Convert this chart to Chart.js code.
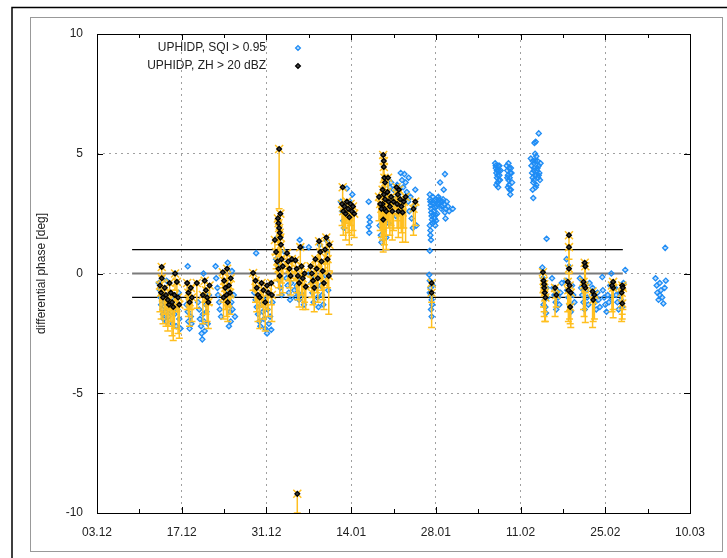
<!DOCTYPE html>
<html>
<head>
<meta charset="utf-8">
<script src="https://cdn.jsdelivr.net/npm/chart.js@4"></script>
<style>
  html, body { margin: 0; padding: 0; background: #fff; }
  #wrap { position: relative; width: 727px; height: 558px; }
</style>
</head>
<body>
<div id="wrap"><canvas id="phaseChart" width="727" height="558"></canvas></div>
<script>
// days counted from 03.12
const dateLabels = ['03.12', '17.12', '31.12', '14.01', '28.01', '11.02', '25.02', '10.03'];
const yTicks = [-10, -5, 0, 5, 10];

// reference lines
const refDays = [5.8, 86.9];
const refLevels = [1, 0, -1];

const legendLabels = ['UPHIDP, SQI > 0.95', 'UPHIDP, ZH > 20 dBZ'];

// UPHIDP, SQI > 0.95  [day, value]
const sqiPoints = [
  [10.2,-0.4],[10.4,-0.7],[10.5,-1.0],[10.6,-1.3],[10.8,-1.5],[10.9,-1.7],[11.0,-1.9],[11.2,-1.2],[11.3,-1.6],[11.5,-2.0],
  [11.6,-1.4],[11.8,-1.8],[12.0,-0.9],[12.1,-1.1],[12.3,-1.6],[12.5,-2.1],[12.6,-1.3],[12.8,-1.7],[13.0,-1.0],[13.1,-2.2],
  [13.3,-1.5],[13.5,-0.8],[12.9,0.0],[11.5,-0.3],[13.6,-1.9],[13.8,-2.3],
  [14.8,-1.3],[15.0,-1.6],[15.1,-2.0],[15.3,-2.3],[15.2,-1.1],[15.5,-1.8],[15.6,-2.1],[15.0,0.3],[16.7,-1.2],[16.9,-1.5],
  [17.0,-1.9],[17.2,-2.2],[17.3,-2.5],[17.4,-2.75],[17.5,-1.7],[17.7,-2.0],[17.8,-2.4],[18.0,-1.3],[18.1,-1.6],[18.3,-2.1],
  [17.6,0.0],[18.5,-0.9],
  [19.6,0.3],[19.7,-0.2],[19.9,-0.6],[20.0,-0.9],[20.2,-1.2],[20.3,-1.5],[20.5,-1.8],[21.6,0.45],[22.3,0.1],[21.5,-0.7],
  [21.7,-1.0],[21.9,-1.3],[22.0,-1.6],[22.2,-1.2],[22.4,-1.5],[22.6,-0.9],[22.8,-1.8],[22.1,-2.0],[21.8,-2.2],
  [26.3,0.85],[26.0,-0.8],[26.2,-1.1],[26.4,-1.4],[26.6,-1.7],[26.8,-2.0],[27.0,-2.2],[27.2,-1.3],[27.4,-1.6],[27.6,-1.9],
  [27.8,-2.3],[28.0,-1.0],[28.2,-1.5],[28.4,-2.1],[28.6,-1.8],[28.8,-2.35],[29.0,-1.2],[28.1,-2.5],
  [29.8,1.5],[29.6,0.6],[29.9,0.3],[30.1,-0.3],[30.3,-0.6],[30.5,-0.9],[31.3,-0.2],[31.5,-0.5],[31.7,-0.8],[31.9,-1.1],
  [32.1,-0.4],[31.0,0.9],
  [33.5,1.4],[33.8,1.1],[33.0,-0.5],[33.2,-0.8],[33.4,-1.1],[33.6,-0.3],[34.0,-0.9],[34.2,-1.3],[34.4,-0.6],[32.6,-0.7],
  [32.8,-1.0],
  [35.0,1.1],[35.2,0.0],[35.4,-0.4],[35.6,-0.8],[35.8,-1.2],[36.0,-0.2],[36.2,-0.6],[36.4,-1.0],[36.6,-1.4],[37.0,-0.5],
  [37.2,-0.9],[37.4,-1.3],[37.6,0.5],[37.8,-0.1],[38.0,0.9],[38.2,-0.7],[36.8,1.2],[37.9,1.4],
  [40.3,3.0],[40.5,2.6],[40.7,2.2],[41.0,2.8],[41.3,3.55],[41.5,2.4],[41.8,3.0],[42.0,2.7],[42.2,3.3],[42.4,2.5],[40.8,1.9],
  [44.9,3.0],[45.0,2.35],[45.1,2.15],[44.9,1.95],[45.0,1.7],
  [46.7,2.0],[46.9,1.6],[47.0,1.3],[47.2,2.4],[47.4,1.8],[47.6,2.7],[47.8,1.5],[48.0,3.2],[48.2,2.1],[48.4,3.6],
  [48.6,3.8],[48.8,2.8],[49.0,3.5],[49.2,3.1],[49.4,2.4],[49.6,3.7],[49.8,3.3],[50.0,2.6],
  [50.2,4.2],[50.4,3.9],[50.6,3.6],[50.8,4.15],[51.0,3.8],[51.2,3.4],[51.4,3.0],[51.6,2.6],[51.8,3.2],[52.0,2.3],
  [52.2,1.9],[52.4,2.8],[52.6,3.5],[51.5,4.0],[52.8,2.0],
  [55.0,3.3],[55.1,3.0],[55.2,2.7],[55.3,2.4],[55.4,2.1],[55.5,3.2],[55.6,2.9],[55.7,2.6],[55.8,2.3],[55.9,2.0],
  [56.0,3.1],[56.1,2.8],[56.2,2.5],[56.4,3.2],[56.6,2.95],[56.8,3.0],[57.0,2.8],[57.2,3.1],[57.4,2.9],[57.6,2.7],
  [57.8,3.0],[58.0,2.8],[58.2,2.6],[56.7,3.8],[57.5,4.15],[57.3,3.5],[57.5,2.55],[57.6,2.3],[55.2,1.4],[55.0,0.95],
  [55.1,1.8],[58.8,2.7],
  [55.05,3.1],[55.15,2.85],[55.25,2.55],[55.35,2.25],[55.45,2.95],[55.55,2.45],[55.65,2.15],[55.75,3.05],[55.85,2.75],
  [55.95,2.45],[56.05,2.2],[56.3,2.9],[56.5,3.1],[56.9,2.7],[57.1,3.0],[55.1,1.6],[55.0,2.0],
  [54.9,-0.05],[55.0,-0.3],[55.1,-0.6],[55.2,-0.9],[55.3,-1.1],[55.4,-1.3],[55.2,-1.5],[55.3,-1.8],[55.0,-0.8],[55.5,-0.5],
  [65.8,4.6],[65.9,4.4],[66.0,4.2],[66.1,4.0],[66.2,3.8],[66.3,3.6],[66.4,4.3],[66.5,4.1],[66.6,3.9],[66.0,3.7],
  [66.3,4.5],[66.7,4.3],[65.9,4.5],[66.1,4.3],[66.2,4.1],[66.4,3.9],[66.5,4.5],
  [67.7,4.5],[67.8,4.3],[67.9,4.1],[68.0,3.9],[68.1,3.7],[68.2,3.5],[68.3,3.3],[68.4,4.4],[68.5,4.2],[68.0,4.6],
  [68.2,4.0],[68.6,3.8],[67.8,4.0],[67.9,3.6],[68.1,4.4],[68.3,4.2],[68.4,3.5],
  [71.7,4.8],[71.8,4.5],[71.9,4.2],[72.0,4.0],[72.1,3.8],[72.2,4.6],[72.3,4.4],[72.4,4.1],[72.5,3.6],[72.6,4.9],
  [72.7,4.3],[72.8,4.7],[72.9,4.0],[73.0,4.5],[73.1,4.2],[73.2,3.9],[73.3,4.6],[72.0,3.5],[72.4,5.0],[72.1,3.15],
  [73.0,5.85],[72.5,5.5],[72.3,5.45],[72.0,4.7],[72.2,4.3],[72.4,4.7],[72.6,4.1],[72.8,4.4],[73.0,4.1],[72.2,3.9],
  [72.6,3.7],
  [74.3,1.45],
  [73.6,0.25],[73.7,-0.2],[73.8,-0.5],[73.9,-0.8],[74.0,-1.1],[74.1,-1.4],[74.2,-1.65],[74.3,-0.6],[74.4,-1.0],[73.8,-1.3],
  [75.2,-0.2],[75.4,-0.6],[75.6,-0.9],[75.8,-1.2],[76.0,-0.7],[76.2,-1.0],[76.4,-1.3],[76.6,-0.8],[76.8,-0.4],[75.9,-1.5],
  [77.5,-0.3],[77.7,-0.7],[77.9,-1.0],[78.1,-1.3],[78.3,-1.6],[78.5,-0.5],[78.7,-0.9],[78.9,-1.2],[77.6,0.6],[78.0,0.3],
  [79.8,-0.2],[80.0,-0.6],[80.2,-0.9],[80.4,-1.2],[80.6,-1.5],[80.8,-0.7],[81.0,-1.0],[81.2,-1.3],[81.4,-0.4],
  [81.9,-0.6],[82.1,-0.9],[82.3,-1.2],[82.5,-1.5],[82.7,-0.8],[82.9,-1.1],[83.1,-1.4],
  [83.5,-0.15],[83.6,-0.7],[83.8,-1.0],[84.0,-1.3],[84.2,-1.6],[84.4,-0.9],[84.6,-1.2],[84.8,-0.5],[85.0,-1.0],[85.0,0.0],
  [85.6,-0.6],[85.8,-0.9],[86.0,-1.2],[86.2,-1.5],[86.4,-0.8],[86.6,-1.1],[86.8,-1.4],[87.0,-0.4],[87.3,0.15],
  [92.3,-0.2],[92.5,-0.5],[92.6,-0.8],[92.8,-1.1],[93.0,-0.4],[93.2,-0.7],[93.4,-1.0],[93.6,-1.25],[93.8,-0.6],[94.0,-0.3],
  [93.0,-0.9],[93.9,1.07]
];

// UPHIDP, ZH > 20 dBZ  [day, value, lower end of error bar]
const zhPoints = [
  [10.7,0.27,-0.1],[10.7,-0.2,-0.9],[10.4,-0.5,-1.6],[10.6,-0.8,-1.9],[10.9,-1.0,-2.1],[11.2,-0.6,-1.7],[11.4,-0.9,-2.2],
  [11.7,-1.1,-2.4],[12.0,-0.4,-1.5],[12.2,-0.8,-2.0],[12.4,-1.2,-2.6],[12.6,-1.4,-2.8],[12.8,-0.9,-2.3],[12.9,0.0,-0.7],
  [13.2,-0.35,-1.6],[13.4,-1.0,-2.5],[13.6,-1.3,-2.7],[11.9,-1.3,-2.2],
  [14.9,-0.4,-1.5],[15.1,-0.8,-1.8],[15.3,-1.2,-2.2],[15.5,-0.6,-1.5],[15.7,-1.0,-2.0],[16.5,-0.4,-1.45],[17.8,-0.3,-1.2],
  [18.0,-0.7,-1.7],[18.2,-1.0,-2.0],[18.4,-1.2,-2.3],[18.6,-0.5,-1.3],[17.5,-0.9,-2.1],
  [20.8,0.05,-0.6],[21.0,-0.3,-1.2],[21.2,-0.6,-1.5],[21.4,-0.9,-1.8],[21.6,-1.2,-2.0],[21.8,-0.5,-1.4],[22.0,-0.8,-1.7],
  [20.9,-1.0,-1.9],[21.5,0.2,-0.5],[22.1,-0.2,-1.0],
  [25.8,0.02,-0.7],[26.2,-0.3,-1.2],[26.4,-0.6,-1.6],[26.6,-0.9,-2.0],[26.9,-1.0,-2.3],[27.2,-0.4,-1.4],[27.5,-0.7,-1.9],
  [27.8,-1.2,-2.4],[28.1,-0.5,-1.5],[28.3,-0.8,-1.8],[28.8,-0.4,-1.3],[28.9,-0.9,-2.0],
  [29.4,1.4,0.8],[29.6,0.9,0.2],[29.8,0.5,-0.3],[30.0,0.2,-0.6],[30.2,-0.1,-0.9],[29.9,2.3,1.4],[30.0,2.1,1.2],
  [30.1,1.9,0.9],[30.2,1.7,0.7],[30.3,1.5,0.6],[30.4,1.2,0.3],[30.3,2.5,1.6],[30.1,5.2,2.7],[30.5,0.6,-0.4],[30.7,0.3,-0.8],
  [31.4,0.85,0.2],[31.6,0.5,-0.3],[31.8,0.2,-0.6],[32.0,-0.1,-0.9],[32.2,0.6,-0.2],[32.8,0.55,-0.3],[33.0,0.2,-0.8],
  [33.2,-0.1,-1.1],[33.4,-0.4,-1.4],[33.6,1.1,0.2],[33.8,0.3,-0.9],[34.0,-0.2,-1.5],[34.3,0.0,-1.2],[34.5,-0.55,-1.5],
  [33.1,-9.2,-10.0],
  [35.3,0.3,-0.6],[35.5,0.0,-1.0],[35.7,-0.3,-1.3],[35.9,-0.6,-1.6],[36.1,0.6,-0.4],[36.3,0.2,-0.8],[36.5,-0.2,-1.2],
  [36.7,1.35,0.3],[36.9,0.9,-0.2],[37.1,0.5,-0.7],[37.3,0.1,-1.1],[37.5,-0.4,-1.5],[37.7,1.0,0.0],[37.9,1.5,0.4],
  [38.1,0.6,-0.6],[38.3,-0.1,-1.7],[38.4,1.2,0.1],
  [40.6,3.6,2.6],[40.5,2.9,2.0],[40.7,2.6,1.6],[40.9,2.8,1.9],[41.1,2.5,1.4],[41.3,3.0,2.1],[41.5,2.7,1.7],[41.7,2.35,1.2],
  [41.9,2.9,2.0],[42.1,2.6,1.6],[42.3,2.8,1.8],[42.5,2.5,1.5],
  [47.3,4.95,3.8],[47.4,4.7,3.5],[47.4,4.45,3.2],[47.5,4.0,2.8],[47.6,3.8,2.5],[47.2,3.5,2.3],[47.4,3.3,1.9],[47.6,3.1,1.6],
  [47.2,2.9,1.4],[47.5,2.7,1.2],[47.3,2.25,0.9],[47.8,2.6,1.0],[46.6,3.2,2.2],[46.8,2.9,1.8],[47.0,2.7,1.5],[48.0,3.4,2.2],
  [48.2,3.0,1.9],[48.4,2.8,1.6],[48.6,3.2,2.0],[48.8,2.6,1.4],[49.0,3.0,1.8],[49.5,3.6,2.5],[49.7,3.3,2.2],[49.9,3.5,2.4],
  [49.6,2.9,1.9],[49.8,2.6,1.5],[50.1,3.1,1.9],[50.3,2.8,1.7],[50.5,2.55,1.3],[50.7,3.0,1.9],[51.0,3.2,1.3],[52.6,3.0,2.0],
  [52.3,2.7,1.6],[48.1,4.0,3.0],
  [55.3,-0.4,-1.2],[55.3,-0.8,-2.25],
  [73.7,0.05,-0.8],[73.8,-0.3,-1.4],[73.9,-0.6,-1.8],[74.0,-0.8,-2.0],[74.1,-1.0,-2.0],[73.9,-0.45,-1.6],
  [75.7,-0.6,-1.8],[75.9,-0.9,-1.4],
  [78.0,1.6,0.6],[78.0,1.1,0.0],[78.0,0.2,-0.8],[77.8,-0.35,-1.6],[78.1,-0.5,-1.9],[78.3,-0.8,-2.25],[78.2,-1.4,-2.1],
  [77.9,-0.7,-2.0],
  [80.6,0.45,-0.6],[80.7,0.3,-0.8],[80.4,-0.35,-1.5],[80.7,-0.6,-2.05],[80.5,-0.5,-1.8],
  [81.9,-0.75,-2.25],[82.0,-1.1,-2.0],[82.2,-0.9,-1.9],
  [85.3,-0.35,-1.5],[85.3,-0.6,-1.85],[85.1,-0.5,-1.6],
  [86.8,-0.5,-1.7],[86.7,-0.8,-2.0],[86.8,-1.25,-1.9],[86.9,-0.6,-1.5]
];

const BLUE = '#1e8cf5';
const GOLD = '#ffbf1f';
const FONT = '"Liberation Sans", Arial, sans-serif';

// frame around the whole picture (gnuplot style page border)
const pageFrame = {
  id: 'pageFrame',
  beforeDraw(chart) {
    const c = chart.ctx;
    c.save();
    c.fillStyle = '#fff';
    c.fillRect(0, 0, chart.width, chart.height);
    c.strokeStyle = '#000';
    c.lineWidth = 1.5;
    c.beginPath();
    c.moveTo(12, chart.height); c.lineTo(12, 7.5); c.lineTo(chart.width, 7.5);
    c.stroke();
    c.strokeStyle = '#999';
    c.lineWidth = 1;
    c.strokeRect(30.5, 17.5, 692, 534);
    c.restore();
  }
};

// error bars go under the black points
const errorBars = {
  id: 'errorBars',
  beforeDatasetDraw(chart, args) {
    if (args.index !== 0) return;
    const c = chart.ctx, xs = chart.scales.x, ys = chart.scales.y;
    c.save();
    c.beginPath();
    c.rect(chart.chartArea.left, chart.chartArea.top, chart.chartArea.width, chart.chartArea.height);
    c.clip();
    c.strokeStyle = GOLD;
    c.lineWidth = 1.5;
    zhPoints.forEach(p => {
      const x = xs.getPixelForValue(p[0]);
      const yTop = ys.getPixelForValue(p[1]);
      const yLow = ys.getPixelForValue(p[2]);
      c.beginPath();
      c.moveTo(x, yTop); c.lineTo(x, yLow);
      c.moveTo(x - 3.5, yLow); c.lineTo(x + 3.5, yLow);
      c.moveTo(x - 4, yTop - 4); c.lineTo(x + 4, yTop + 4);
      c.moveTo(x + 4, yTop - 4); c.lineTo(x - 4, yTop + 4);
      c.stroke();
    });
    c.restore();
  }
};

// full box, inward ticks, legend
const boxAndLegend = {
  id: 'boxAndLegend',
  afterDraw(chart) {
    const c = chart.ctx, a = chart.chartArea, xs = chart.scales.x, ys = chart.scales.y;
    c.save();
    c.strokeStyle = '#000';
    c.lineWidth = 1;
    c.strokeRect(Math.round(a.left) + 0.5, Math.round(a.top) + 0.5, Math.round(a.width), Math.round(a.height));
    c.beginPath();
    for (let d = 0; d <= 98; d += 7) {
      const x = Math.round(xs.getPixelForValue(d)) + 0.5;
      const len = d % 14 === 0 ? 6 : 4;
      c.moveTo(x, a.bottom); c.lineTo(x, a.bottom - len);
      c.moveTo(x, a.top); c.lineTo(x, a.top + len);
    }
    yTicks.forEach(v => {
      const y = Math.round(ys.getPixelForValue(v)) + 0.5;
      c.moveTo(a.left, y); c.lineTo(a.left + 6, y);
      c.moveTo(a.right, y); c.lineTo(a.right - 6, y);
    });
    c.stroke();

    c.font = '12px ' + FONT;
    c.fillStyle = '#222';
    c.textAlign = 'right';
    c.textBaseline = 'middle';
    c.fillText(legendLabels[0], 266, 48);
    c.fillText(legendLabels[1], 266, 66);
    const diamond = (x, y, r, stroke, fill) => {
      c.beginPath();
      c.moveTo(x, y - r); c.lineTo(x + r, y); c.lineTo(x, y + r); c.lineTo(x - r, y); c.closePath();
      c.fillStyle = fill; c.fill();
      c.strokeStyle = stroke; c.lineWidth = 1.3; c.stroke();
    };
    diamond(298, 48, 2.4, BLUE, 'rgba(30,140,245,0.3)');
    diamond(298, 66, 2.4, '#000', '#444');
    c.restore();
  }
};

function refLine(level) {
  return {
    type: 'scatter',
    showLine: true,
    data: refDays.map(d => ({ x: d, y: level })),
    borderColor: level === 0 ? '#7a7a7a' : '#000',
    borderWidth: level === 0 ? 2 : 1.2,
    pointRadius: 0,
    order: 3
  };
}

new Chart(document.getElementById('phaseChart'), {
  type: 'scatter',
  data: {
    datasets: [
      {
        label: legendLabels[1],
        data: zhPoints.map(p => ({ x: p[0], y: p[1] })),
        pointStyle: 'rectRot',
        pointRadius: 2.4,
        borderWidth: 1.3,
        borderColor: '#000',
        backgroundColor: '#3a3a3a',
        order: 0
      },
      {
        label: legendLabels[0],
        data: sqiPoints.map(p => ({ x: p[0], y: p[1] })),
        pointStyle: 'rectRot',
        pointRadius: 2.6,
        borderWidth: 1.3,
        borderColor: BLUE,
        backgroundColor: 'rgba(30,140,245,0.3)',
        order: 1
      },
      ...refLevels.map(refLine)
    ]
  },
  options: {
    responsive: false,
    animation: false,
    events: [],
    layout: { padding: { left: 30, right: 37, top: 34, bottom: 15 } },
    plugins: {
      legend: { display: false },
      tooltip: { enabled: false },
      title: { display: false }
    },
    scales: {
      x: {
        type: 'linear',
        min: 0, max: 98,
        afterFit: s => { s.height = 30; },
        afterBuildTicks: s => { s.ticks = dateLabels.map((_, i) => ({ value: i * 14 })); },
        ticks: {
          callback: (v, i) => dateLabels[i],
          font: { family: FONT, size: 12 },
          color: '#222',
          padding: 12,
          maxRotation: 0
        },
        grid: {
          drawTicks: false,
          color: ctx => (ctx.index === 0 || ctx.index === dateLabels.length - 1) ? 'rgba(0,0,0,0)' : '#a0a0a0',
          lineWidth: 1
        },
        border: { display: false, dash: [2, 4] }
      },
      y: {
        min: -10, max: 10,
        afterFit: s => { s.width = 67; },
        afterBuildTicks: s => { s.ticks = yTicks.map(v => ({ value: v })); },
        ticks: {
          font: { family: FONT, size: 12 },
          color: '#222',
          padding: 14
        },
        title: {
          display: true,
          text: 'differential phase [deg]',
          font: { family: FONT, size: 12 },
          color: '#222',
          padding: { top: 4, bottom: 0 }
        },
        grid: {
          drawTicks: false,
          color: ctx => (ctx.index === 0 || ctx.index === yTicks.length - 1) ? 'rgba(0,0,0,0)' : '#a0a0a0',
          lineWidth: 1
        },
        border: { display: false, dash: [2, 4] }
      }
    }
  },
  plugins: [pageFrame, errorBars, boxAndLegend]
});
</script>
</body>
</html>
